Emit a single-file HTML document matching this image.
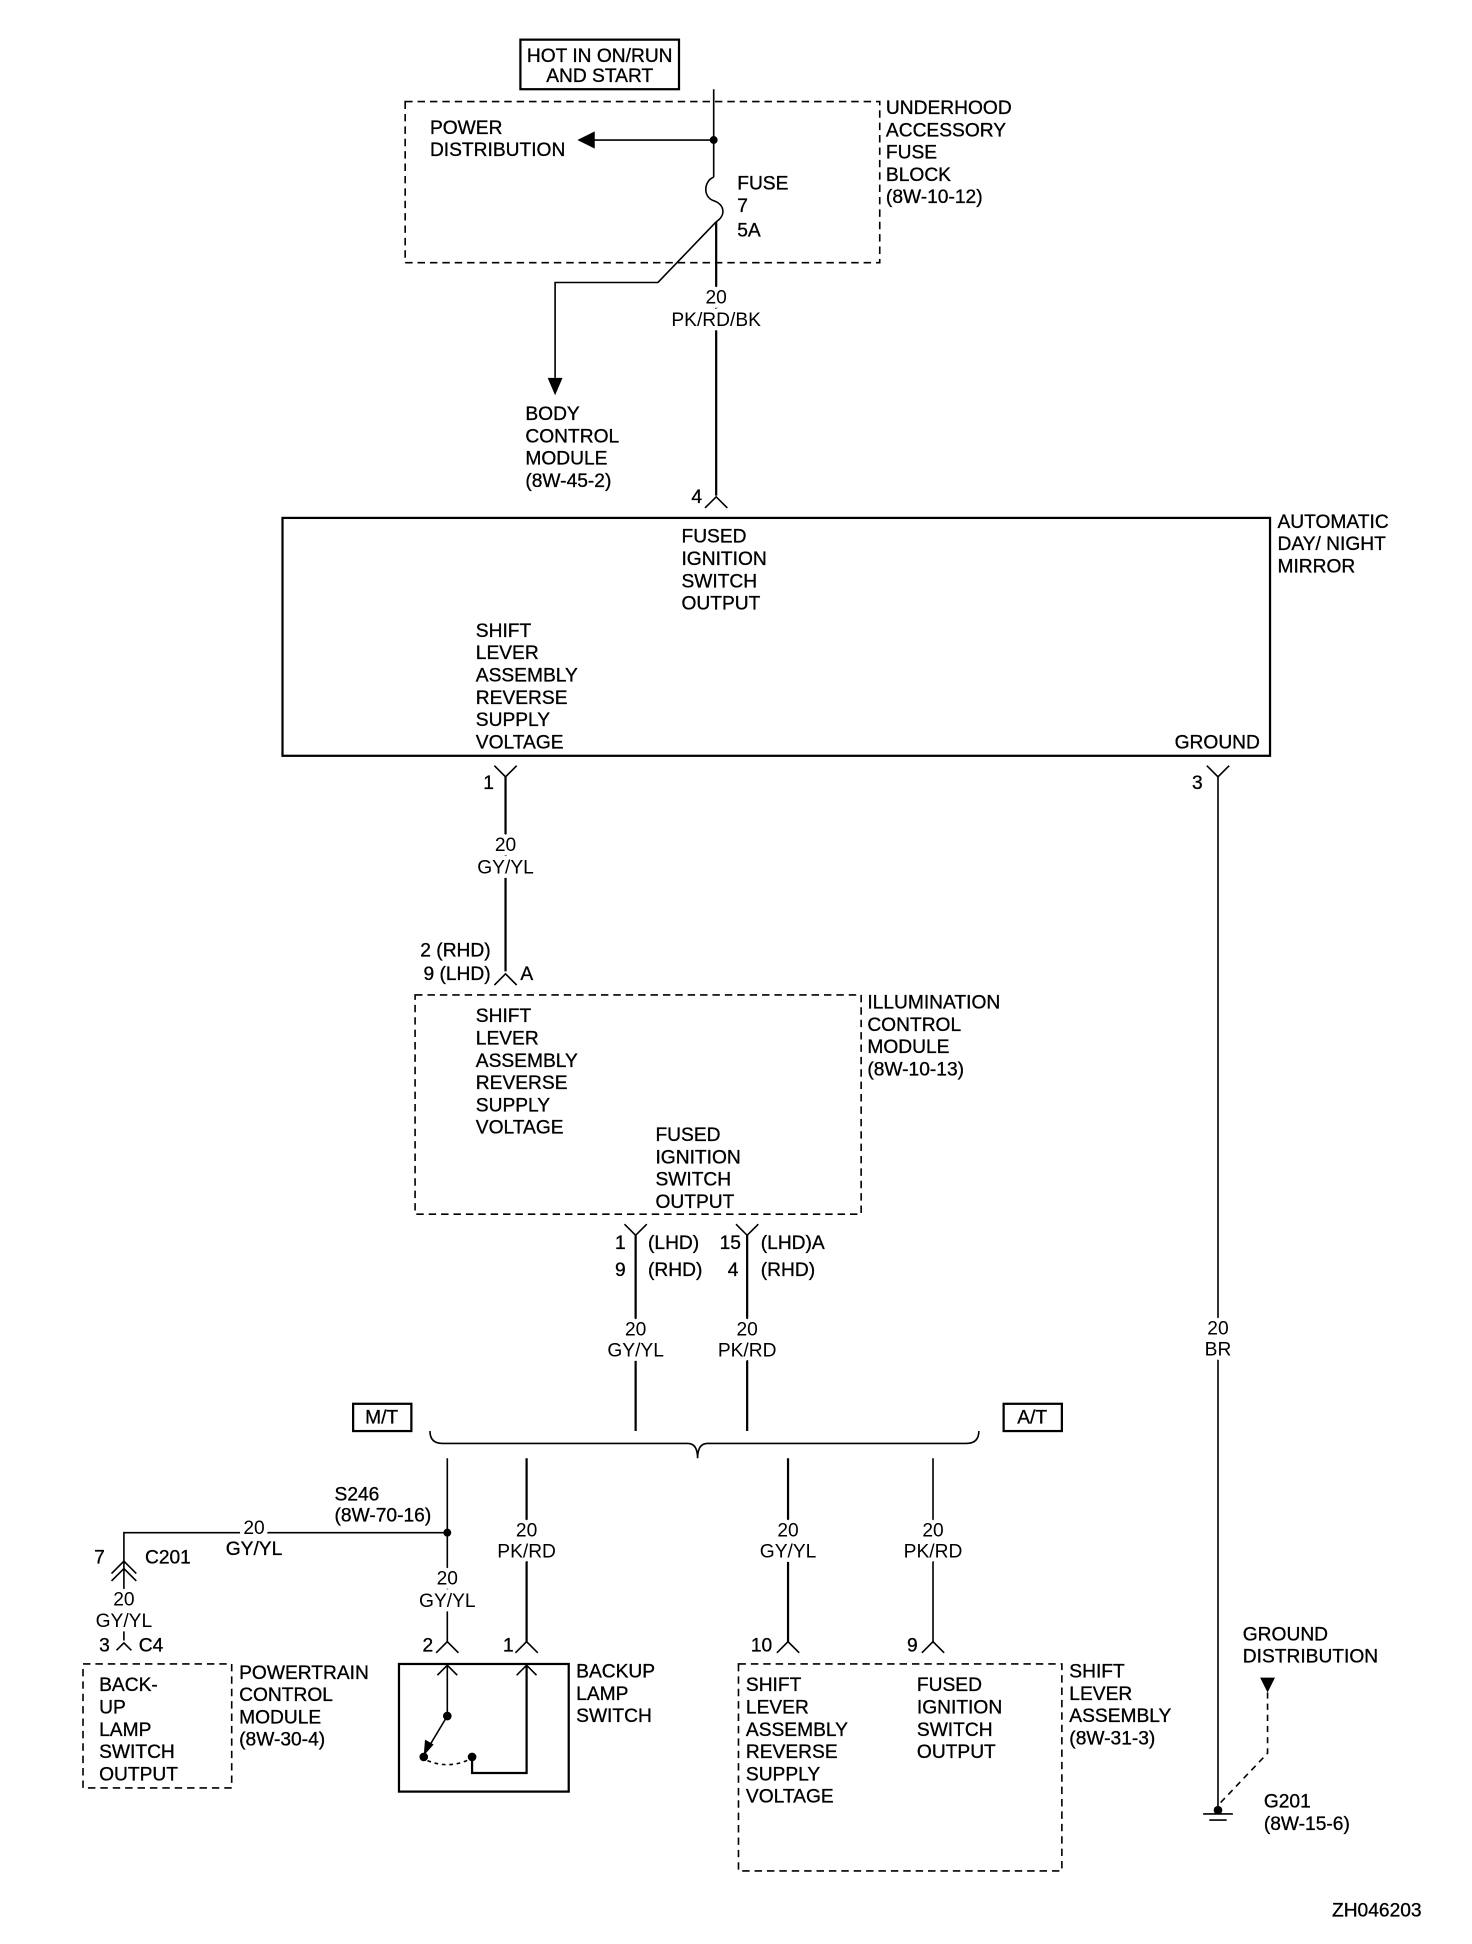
<!DOCTYPE html>
<html><head><meta charset="utf-8"><style>
html,body{margin:0;padding:0;background:#fff;}
svg{display:block;}
text{font-family:"Liberation Sans",Arial,sans-serif;font-size:15.5px;fill:#000;stroke:#000;stroke-width:0.25px;}
.l{stroke:#000;stroke-width:1.3;fill:none;}
.t{stroke:#000;stroke-width:1.8;fill:none;}
.d{stroke:#000;stroke-width:1.3;fill:none;stroke-dasharray:6,4;}
.w{paint-order:stroke;stroke:#fff;stroke-width:7px;stroke-linejoin:round;}
.c{text-anchor:middle;}
.r{text-anchor:end;}
</style></head><body>
<svg width="1472" height="1944" viewBox="0 0 1188 1569" preserveAspectRatio="none" xmlns="http://www.w3.org/2000/svg">
<rect x="420" y="32" width="128" height="40" class="t"/>
<text x="484" y="50" class="c">HOT IN ON/RUN</text>
<text x="484" y="66" class="c">AND START</text>
<rect x="327" y="82" width="383" height="130" class="d"/>
<line x1="576" y1="72" x2="576" y2="143" class="l"/>
<circle cx="576" cy="113" r="3.2"/>
<line x1="576" y1="113" x2="476" y2="113" class="l"/>
<polygon points="466,113 480,106 480,120"/>
<text x="347" y="108">POWER</text>
<text x="347" y="126">DISTRIBUTION</text>
<path d="M576,143 C568,146 567,159 576,162 C585,165 586,174 578,179" class="l"/>
<line x1="578" y1="179" x2="578" y2="400" class="t"/>
<path d="M578,179 L531,228 L448,228 L448,305" class="l"/>
<polygon points="448,319 442,305 454,305"/>
<text x="595" y="153">FUSE</text>
<text x="595" y="171">7</text>
<text x="595" y="191">5A</text>
<text x="715" y="92">UNDERHOOD</text>
<text x="715" y="110">ACCESSORY</text>
<text x="715" y="128">FUSE</text>
<text x="715" y="146">BLOCK</text>
<text x="715" y="164">(8W-10-12)</text>
<text x="578" y="245" class="c w">20</text>
<text x="578" y="263" class="c w">PK/RD/BK</text>
<text x="424" y="339">BODY</text>
<text x="424" y="357">CONTROL</text>
<text x="424" y="375">MODULE</text>
<text x="424" y="393">(8W-45-2)</text>
<text x="558" y="406">4</text>
<path d="M569,410 L578,401 L587,410" class="l"/>
<rect x="228" y="418" width="797" height="192" class="t"/>
<text x="550" y="438">FUSED</text>
<text x="550" y="456">IGNITION</text>
<text x="550" y="474">SWITCH</text>
<text x="550" y="492">OUTPUT</text>
<text x="384" y="514">SHIFT</text>
<text x="384" y="532">LEVER</text>
<text x="384" y="550">ASSEMBLY</text>
<text x="384" y="568">REVERSE</text>
<text x="384" y="586">SUPPLY</text>
<text x="384" y="604">VOLTAGE</text>
<text x="948" y="604">GROUND</text>
<text x="1031" y="426">AUTOMATIC</text>
<text x="1031" y="444">DAY/ NIGHT</text>
<text x="1031" y="462">MIRROR</text>
<text x="390" y="637">1</text>
<path d="M399,618 L408,627 L417,618" class="l"/>
<line x1="408" y1="627" x2="408" y2="784" class="t"/>
<text x="408" y="687" class="c w">20</text>
<text x="408" y="705" class="c w">GY/YL</text>
<text x="962" y="637">3</text>
<path d="M974,618 L983,627 L992,618" class="l"/>
<line x1="983" y1="627" x2="983" y2="1461" class="l"/>
<text x="983" y="1077" class="c w">20</text>
<text x="983" y="1094" class="c w">BR</text>
<text x="396" y="772" class="r">2 (RHD)</text>
<text x="396" y="791" class="r">9 (LHD)</text>
<path d="M399,795 L408,786 L417,795" class="l"/>
<text x="420" y="791">A</text>
<rect x="335" y="803" width="360" height="177" class="d"/>
<text x="384" y="825">SHIFT</text>
<text x="384" y="843">LEVER</text>
<text x="384" y="861">ASSEMBLY</text>
<text x="384" y="879">REVERSE</text>
<text x="384" y="897">SUPPLY</text>
<text x="384" y="915">VOLTAGE</text>
<text x="529" y="921">FUSED</text>
<text x="529" y="939">IGNITION</text>
<text x="529" y="957">SWITCH</text>
<text x="529" y="975">OUTPUT</text>
<text x="700" y="814">ILLUMINATION</text>
<text x="700" y="832">CONTROL</text>
<text x="700" y="850">MODULE</text>
<text x="700" y="868">(8W-10-13)</text>
<path d="M504,988 L513,997 L522,988" class="l"/>
<path d="M594,988 L603,997 L612,988" class="l"/>
<line x1="513" y1="997" x2="513" y2="1155" class="t"/>
<line x1="603" y1="997" x2="603" y2="1155" class="t"/>
<text x="505" y="1008" class="r">1</text>
<text x="523" y="1008">(LHD)</text>
<text x="505" y="1030" class="r">9</text>
<text x="523" y="1030">(RHD)</text>
<text x="598" y="1008" class="r">15</text>
<text x="614" y="1008">(LHD)A</text>
<text x="596" y="1030" class="r">4</text>
<text x="614" y="1030">(RHD)</text>
<text x="513" y="1078" class="c w">20</text>
<text x="513" y="1095" class="c w">GY/YL</text>
<text x="603" y="1078" class="c w">20</text>
<text x="603" y="1095" class="c w">PK/RD</text>
<rect x="285" y="1133" width="47" height="22" class="t"/>
<text x="308" y="1149" class="c">M/T</text>
<rect x="810" y="1133" width="47" height="22" class="t"/>
<text x="833" y="1149" class="c">A/T</text>
<path d="M347,1155 Q347,1165 357,1165 L555,1165 Q563,1165 563,1177 Q563,1165 571,1165 L780,1165 Q790,1165 790,1155" class="l"/>
<line x1="361" y1="1177" x2="361" y2="1325" class="l"/>
<line x1="425" y1="1177" x2="425" y2="1325" class="t"/>
<line x1="636" y1="1177" x2="636" y2="1325" class="t"/>
<line x1="753" y1="1177" x2="753" y2="1325" class="l"/>
<text x="270" y="1211">S246</text>
<text x="270" y="1228">(8W-70-16)</text>
<circle cx="361" cy="1237" r="3.2"/>
<path d="M361,1237 L100,1237 L100,1324" class="l"/>
<text x="205" y="1238" class="c w">20</text>
<text x="205" y="1255" class="c">GY/YL</text>
<text x="361" y="1279" class="c w">20</text>
<text x="361" y="1297" class="c w">GY/YL</text>
<text x="425" y="1240" class="c w">20</text>
<text x="425" y="1257" class="c w">PK/RD</text>
<text x="636" y="1240" class="c w">20</text>
<text x="636" y="1257" class="c w">GY/YL</text>
<text x="753" y="1240" class="c w">20</text>
<text x="753" y="1257" class="c w">PK/RD</text>
<text x="76" y="1262">7</text>
<text x="117" y="1262">C201</text>
<path d="M90,1270 L100,1260 L110,1270 M90,1276 L100,1266 L110,1276" class="l"/>
<text x="100" y="1296" class="c w">20</text>
<text x="100" y="1313" class="c w">GY/YL</text>
<text x="80" y="1333">3</text>
<text x="112" y="1333">C4</text>
<path d="M94,1332 L100,1326 L106,1332" class="l"/>
<rect x="67" y="1343" width="120" height="100" class="d"/>
<text x="80" y="1365">BACK-</text>
<text x="80" y="1383">UP</text>
<text x="80" y="1401">LAMP</text>
<text x="80" y="1419">SWITCH</text>
<text x="80" y="1437">OUTPUT</text>
<text x="193" y="1355">POWERTRAIN</text>
<text x="193" y="1373">CONTROL</text>
<text x="193" y="1391">MODULE</text>
<text x="193" y="1409">(8W-30-4)</text>
<text x="341" y="1333">2</text>
<text x="406" y="1333">1</text>
<path d="M352,1334 L361,1325 L370,1334" class="l"/>
<path d="M416,1334 L425,1325 L434,1334" class="l"/>
<rect x="322" y="1343" width="137" height="103" class="t"/>
<path d="M353,1352 L361,1344 L369,1352 M417,1352 L425,1344 L433,1352" class="l" stroke-width="0.8"/>
<line x1="361" y1="1344" x2="361" y2="1385" class="l"/>
<circle cx="361" cy="1385" r="3.5"/>
<line x1="361" y1="1385" x2="346" y2="1410" class="l"/>
<polygon points="342,1417 343,1404 350,1408"/>
<circle cx="342" cy="1418" r="3.5"/>
<path d="M345,1421 Q362,1428 379,1420" class="l" stroke-dasharray="3,3"/>
<circle cx="381" cy="1418" r="3.5"/>
<path d="M381,1418 L381,1431 L425,1431 L425,1344" class="t"/>
<text x="465" y="1354">BACKUP</text>
<text x="465" y="1372">LAMP</text>
<text x="465" y="1390">SWITCH</text>
<text x="606" y="1333">10</text>
<text x="732" y="1333">9</text>
<path d="M627,1334 L636,1325 L645,1334" class="l"/>
<path d="M744,1334 L753,1325 L762,1334" class="l"/>
<rect x="596" y="1343" width="261" height="167" class="d"/>
<text x="602" y="1365">SHIFT</text>
<text x="602" y="1383">LEVER</text>
<text x="602" y="1401">ASSEMBLY</text>
<text x="602" y="1419">REVERSE</text>
<text x="602" y="1437">SUPPLY</text>
<text x="602" y="1455">VOLTAGE</text>
<text x="740" y="1365">FUSED</text>
<text x="740" y="1383">IGNITION</text>
<text x="740" y="1401">SWITCH</text>
<text x="740" y="1419">OUTPUT</text>
<text x="863" y="1354">SHIFT</text>
<text x="863" y="1372">LEVER</text>
<text x="863" y="1390">ASSEMBLY</text>
<text x="863" y="1408">(8W-31-3)</text>
<text x="1003" y="1324">GROUND</text>
<text x="1003" y="1342">DISTRIBUTION</text>
<polygon points="1017,1354 1029,1354 1023,1366"/>
<path d="M1023,1366 L1023,1415 L985,1455" class="l" stroke-dasharray="5,4"/>
<circle cx="983" cy="1461" r="3.5"/>
<line x1="971" y1="1464" x2="995" y2="1464" class="l"/>
<line x1="976" y1="1469" x2="990" y2="1469" class="l"/>
<text x="1020" y="1459">G201</text>
<text x="1020" y="1477">(8W-15-6)</text>
<text x="1075" y="1547">ZH046203</text>
</svg>
</body></html>
